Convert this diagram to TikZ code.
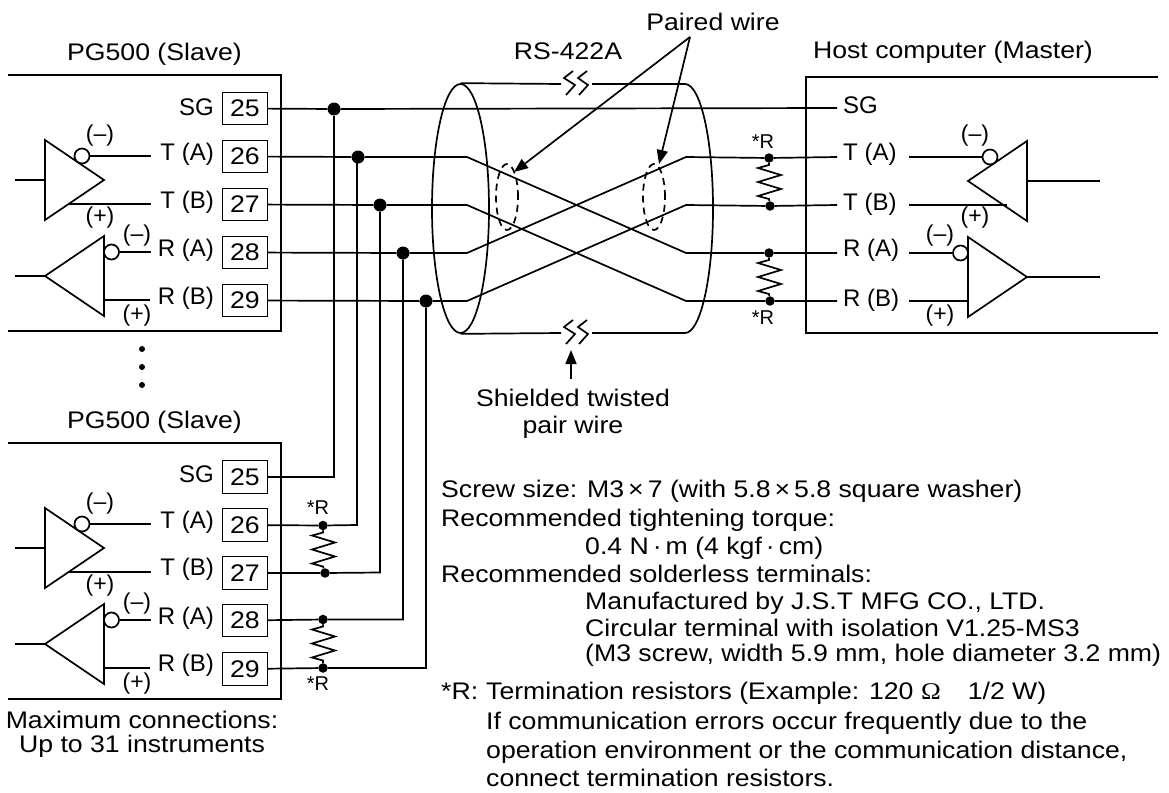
\documentclass[tikz,border=0pt]{standalone}
\usepackage{fontspec}
\setmainfont{Liberation Sans}
\newfontfamily\widefont[FakeStretch=1.11]{Liberation Sans}
\newfontfamily\ohmfont[FakeStretch=1.11]{Liberation Serif}
\usetikzlibrary{shapes.geometric,arrows.meta}
\tikzstyle{wire} = [line width=1.7pt]
\tikzstyle{frame} = [line width=2.4pt]
\tikzstyle{txt} = [inner sep=0pt, font={\widefont\fontsize{24}{28}\selectfont}]
\tikzstyle{lefttxt} = [txt, anchor=base west]
\tikzstyle{pinr} = [inner sep=0pt, anchor=base east, font={\fontsize{24}{28}\selectfont}]
\tikzstyle{pinl} = [inner sep=0pt, anchor=base west, font={\fontsize{24}{28}\selectfont}]
\tikzstyle{sign} = [inner sep=0pt, font={\fontsize{23}{24}\selectfont}]
\tikzstyle{starr} = [inner sep=0pt, font={\fontsize{20}{24}\selectfont}]
\tikzstyle{terminal} = [draw, line width=1.2pt, inner sep=0pt, minimum width=44.5pt, minimum height=32.5pt, font={\widefont\fontsize{24}{28}\selectfont}]
\tikzstyle{junction} = [circle, fill=black, inner sep=0pt, minimum size=13pt]
\tikzstyle{smalldot} = [circle, fill=black, inner sep=0pt, minimum size=9.5pt]
\tikzstyle{pdot} = [circle, fill=black, inner sep=0pt, minimum size=6pt]
\tikzstyle{bubble} = [circle, draw, fill=white, wire, inner sep=0pt, minimum size=15pt]
\tikzstyle{cable} = [draw, ellipse, wire, inner sep=0pt, minimum width=57pt, minimum height=249pt]
\tikzstyle{pair} = [draw, ellipse, wire, dash pattern=on 7pt off 5pt, inner sep=0pt, minimum width=22pt, minimum height=66pt]
\tikzstyle{pointer} = [wire, -{Triangle[length=14pt,width=11pt]}]

\begin{document}
\begin{tikzpicture}[x=1pt,y=-1pt]
    \useasboundingbox (0,0) rectangle (1169,792);
    % upper instrument
    \node[txt](slave1) at (154.5,54){PG500 (Slave)};
    \draw[frame](8,75)--(281,75)--(281,331)--(8,331);
    \node[terminal](t25) at (245,108.5){25};
    \node[terminal](t26) at (245,156.5){26};
    \node[terminal](t27) at (245,204.5){27};
    \node[terminal](t28) at (245,252.5){28};
    \node[terminal](t29) at (245,300.5){29};
    \node[pinr](p25) at (214,115){SG};
    \node[pinr](p26) at (214,160.5){T (A)};
    \node[pinr](p27) at (214,208){T (B)};
    \node[pinr](p28) at (214,256.5){R (A)};
    \node[pinr](p29) at (214,304){R (B)};
    \draw[wire](45,140)--(104,180)--(45,220)--cycle;
    \draw[wire](15,180)--(45,180);
    \draw[wire](68,204)--(151,204);
    \node[bubble](b1) at (82,156){};
    \draw[wire](b1)--(151,156);
    \node[sign](m1) at (100,136){(--)};
    \node[sign](n1) at (100,218){(+)};
    \draw[wire](104,236)--(45,276)--(104,316)--cycle;
    \draw[wire](15,276)--(45,276);
    \draw[wire](104,300)--(150,300);
    \node[bubble](b2) at (111.5,252){};
    \draw[wire](b2)--(151,252);
    \node[sign](m2) at (137,236){(--)};
    \node[sign](n2) at (137,316){(+)};
    \node[pdot](d1) at (142,349){};
    \node[pdot](d2) at (142,367){};
    \node[pdot](d3) at (142,385){};
    % lower instrument
    \node[txt](slave2) at (154.5,422){PG500 (Slave)};
    \draw[frame](8,443)--(281,443)--(281,699)--(8,699);
    \node[terminal](u25) at (245,477){25};
    \node[terminal](u26) at (245,525){26};
    \node[terminal](u27) at (245,573){27};
    \node[terminal](u28) at (245,620.5){28};
    \node[terminal](u29) at (245,669){29};
    \node[pinr](q25) at (214,482.5){SG};
    \node[pinr](q26) at (214,528){T (A)};
    \node[pinr](q27) at (214,575.5){T (B)};
    \node[pinr](q28) at (214,624){R (A)};
    \node[pinr](q29) at (214,671.5){R (B)};
    \draw[wire](45,508)--(104,548)--(45,588)--cycle;
    \draw[wire](15,548)--(45,548);
    \draw[wire](68,572)--(151,572);
    \node[bubble](b3) at (82,524){};
    \draw[wire](b3)--(151,524);
    \node[sign](m3) at (100,504){(--)};
    \node[sign](n3) at (100,586){(+)};
    \draw[wire](104,604)--(45,644)--(104,684)--cycle;
    \draw[wire](15,644)--(45,644);
    \draw[wire](104,668)--(150,668);
    \node[bubble](b4) at (111.5,620){};
    \draw[wire](b4)--(151,620);
    \node[sign](m4) at (137,604){(--)};
    \node[sign](n4) at (137,684){(+)};
    \node[txt](maxc) at (142,720){Maximum connections:};
    \node[txt](upto) at (142,746){Up to 31 instruments};
    % bus
    \node[junction](j25) at (334,109){};
    \node[junction](j26) at (358,157){};
    \node[junction](j27) at (380,205){};
    \node[junction](j28) at (403,253){};
    \node[junction](j29) at (426,301){};
    \coordinate (c25) at (334,477);
    \coordinate (c26) at (357,525);
    \coordinate (c27) at (380,572.5);
    \coordinate (c28) at (403,619.5);
    \coordinate (c29) at (426,668);
    \node[smalldot](e26) at (323,525.5){};
    \node[smalldot](e27) at (325,573){};
    \node[smalldot](e28) at (323,619.5){};
    \node[smalldot](e29) at (323,668){};
    \draw[wire](j25)--(c25)--(u25);
    \draw[wire](357,157)--(c26)--(e26)--(u26);
    \draw[wire](j27)--(c27)--(e27)--(u27);
    \draw[wire](j28)--(c28)--(e28)--(u28);
    \draw[wire](j29)--(c29)--(e29)--(u29);
    \draw[wire](e26)--++(0,7)--++(-11,3)--++(23,7)--++(-23,7)--++(23,7)--++(-23,7)--++(11,3)--(e27);
    \draw[wire](e28)--++(0,7)--++(-11,3)--++(23,7)--++(-23,7)--++(23,7)--++(-23,7)--++(11,3)--(e29);
    \node[starr](r3) at (318,508){*R};
    \node[starr](r4) at (318,684){*R};
    % cable
    \node[txt](rs) at (568,51){RS-422A};
    \node[txt](paired) at (713,22){Paired wire};
    \coordinate (tip) at (690,37);
    \node[cable](cl) at (460.5,208.5){};
    \node[pair](pl) at (507,197){};
    \node[pair](pr) at (654,197){};
    \coordinate (s1) at (561,84);
    \coordinate (s2) at (592,84);
    \coordinate (s3) at (561,333);
    \coordinate (s4) at (592,333);
    \coordinate (ct) at (685,84);
    \coordinate (cb) at (685,333);
    \draw[wire](cl.north)--(s1);
    \draw[wire](s2)--(ct) .. controls (700.5,84) and (713,139.7) .. (713,208.5) .. controls (713,277.3) and (700.5,333) .. (cb)--(s4);
    \draw[wire](cl.south)--(s3);
    \draw[wire](573,71)--(564,78)--(575,85)--(566,95);
    \draw[wire](587,71)--(578,78)--(588,85)--(579,95);
    \draw[wire](573,320)--(564,327)--(575,334)--(566,344);
    \draw[wire](587,320)--(578,327)--(588,334)--(579,344);
    \draw[pointer](tip)--(514,172);
    \draw[pointer](tip)--(659,164);
    \coordinate (x26) at (467,157);
    \coordinate (x27) at (467,205);
    \coordinate (x28) at (467,253);
    \coordinate (x29) at (467,301);
    \coordinate (y26) at (686,253);
    \coordinate (y27) at (686,301);
    \coordinate (y28) at (686,157);
    \coordinate (y29) at (686,205);
    % host side
    \node[txt](host) at (953,52){Host computer (Master)};
    \draw[wire](1158,77)--(806,77)--(806,333)--(1158,333);
    \node[pinl](h25) at (843,113){SG};
    \node[pinl](h26) at (843,160){T (A)};
    \node[pinl](h27) at (843,210.5){T (B)};
    \node[pinl](h28) at (843,256.5){R (A)};
    \node[pinl](h29) at (843,306.5){R (B)};
    \coordinate (w25) at (837,108);
    \coordinate (w26) at (837,157);
    \coordinate (w27) at (837,205);
    \coordinate (w28) at (837,253);
    \coordinate (w29) at (837,301);
    \node[smalldot](k26) at (769,158){};
    \node[smalldot](k27) at (770,206){};
    \node[smalldot](k28) at (769,253){};
    \node[smalldot](k29) at (770,301){};
    \draw[wire](t25)--(j25)--(w25);
    \draw[wire](t26)--(j26)--(x26)--(y26)--(k28)--(w28);
    \draw[wire](t27)--(j27)--(x27)--(y27)--(k29)--(w29);
    \draw[wire](t28)--(j28)--(x28)--(y28)--(k26)--(w26);
    \draw[wire](t29)--(j29)--(x29)--(y29)--(k27)--(w27);
    \draw[wire](k26)--++(0,7)--++(-11,3)--++(23,7)--++(-23,7)--++(23,7)--++(-23,7)--++(11,3)--(k27);
    \draw[wire](k28)--++(0,7)--++(-11,3)--++(23,7)--++(-23,7)--++(23,7)--++(-23,7)--++(11,3)--(k29);
    \node[starr](r1) at (763,142){*R};
    \node[starr](r2) at (763,318){*R};
    \draw[wire](1027,141)--(968,181)--(1027,221)--cycle;
    \draw[wire](1027,181)--(1100,181);
    \draw[wire](909,205)--(1007,205);
    \node[bubble](b5) at (990,157){};
    \draw[wire](909,157)--(b5);
    \node[sign](m5) at (975,136){(--)};
    \node[sign](n5) at (975,218){(+)};
    \draw[wire](968,237)--(1027,277)--(968,317)--cycle;
    \draw[wire](1027,277)--(1100,277);
    \draw[wire](909,301)--(968,301);
    \node[bubble](b6) at (960.5,253){};
    \draw[wire](909,253)--(b6);
    \node[sign](m6) at (940,236){(--)};
    \node[sign](n6) at (940,316){(+)};
    % notes
    \node[txt](shield1) at (573,398){Shielded twisted};
    \node[txt](shield2) at (573,427){pair wire};
    \coordinate (sa) at (571,379);
    \coordinate (sb) at (571,350);
    \draw[pointer](sa)--(sb);
    \node[lefttxt](l1) at (441,497){Screw size: M3\,×\,7 (with 5.8\,×\,5.8 square washer)};
    \node[lefttxt](l2) at (441,526){Recommended tightening torque:};
    \node[lefttxt](l3) at (585,554){0.4 N\,·\,m (4 kgf\,·\,cm)};
    \node[lefttxt](l4) at (441,582.5){Recommended solderless terminals:};
    \node[lefttxt](l5) at (585,609){Manufactured by J.S.T MFG CO., LTD.};
    \node[lefttxt](l6) at (585,636){Circular terminal with isolation V1.25-MS3};
    \node[lefttxt](l7) at (585,661.5){(M3 screw, width 5.9 mm, hole diameter 3.2 mm)};
    \node[lefttxt](l8) at (441,699){*R:};
    \node[lefttxt](l9) at (486,699){Termination resistors (Example: 120 {\ohmfont Ω}\hspace{27pt}1/2 W)};
    \node[lefttxt](l10) at (486,729){If communication errors occur frequently due to the};
    \node[lefttxt](l11) at (486,758){operation environment or the communication distance,};
    \node[lefttxt](l12) at (486,786.5){connect termination resistors.};
\end{tikzpicture}
\end{document}
